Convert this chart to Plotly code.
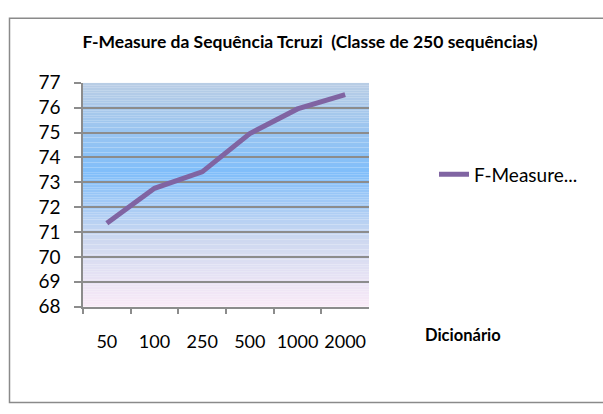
import plotly.graph_objects as go

# ---- data ----
categories = ["50", "100", "250", "500", "1000", "2000"]
f_measure = [71.35, 72.76, 73.42, 74.96, 75.95, 76.53]
series_name = "F-Measure..."
title_text = "F-Measure da Sequência Tcruzi \u00a0(Classe de 250 sequências)"
x_title = "Dicionário"
y_ticks = list(range(68, 78))

W, H = 603, 414
FONT = "Lato"
Y_MIN, Y_MAX = 68, 77

# plot area in pixels
px_l, px_r, px_t, px_b = 83, 369, 75, 312

fig = go.Figure()
fig.add_trace(go.Scatter(
    x=categories, y=f_measure, mode="lines", name=series_name,
    line=dict(color="#8064a2", width=5),
))

# gradient background via thin stripes (style only)
stops = [(0.0, (185, 205, 229)), (0.40, (128, 190, 250)), (0.70, (205, 216, 240)), (1.0, (250, 234, 247))]

def grad(t):
    for (t0, c0), (t1, c1) in zip(stops[:-1], stops[1:]):
        if t0 <= t <= t1:
            f = (t - t0) / (t1 - t0)
            return "rgb(%d,%d,%d)" % tuple(round(a + (b - a) * f) for a, b in zip(c0, c1))
    return "rgb(%d,%d,%d)" % stops[-1][1]

n = 90
shapes = []
step = (Y_MAX - Y_MIN) / n
for i in range(n):
    y1 = Y_MAX - i * step
    y0 = y1 - step
    shapes.append(dict(type="rect", xref="x domain", yref="y", x0=0, x1=1,
                       y0=y0, y1=y1, fillcolor=grad((i + 0.5) / n),
                       line=dict(width=0), layer="below"))
# chart-area border
shapes.append(dict(type="rect", xref="paper", yref="paper",
                   x0=9.5 / W, x1=1.05, y0=(H - 413.5) / H, y1=(H - 6.5) / H,
                   line=dict(color="#8a8a8a", width=1.5), fillcolor="rgba(0,0,0,0)",
                   layer="below"))

fig.update_layout(
    width=W, height=H,
    margin=dict(l=0, r=0, t=0, b=0),
    paper_bgcolor="white", plot_bgcolor="rgba(0,0,0,0)",
    font=dict(family=FONT, color="black", size=18),
    title=dict(text="<b>" + title_text + "</b>", x=310 / W, xanchor="center",
               y=(H - 42) / H, yanchor="middle", font=dict(family=FONT, size=17.5)),
    showlegend=True,
    legend=dict(x=(478 - 44) / W, xanchor="left", y=(H - 172) / H, yanchor="middle",
                bgcolor="rgba(0,0,0,0)", font=dict(family=FONT, size=19)),
    shapes=shapes,
    xaxis=dict(
        domain=[px_l / W, px_r / W], type="category", categoryorder="array",
        categoryarray=categories, range=[-0.5, len(categories) - 0.5],
        showgrid=False, showline=True, linecolor="#8c8c8c", linewidth=1.5,
        ticks="outside", ticklen=6, tickcolor="#8c8c8c", tickwidth=1.5,
        tickson="boundaries", ticklabelstandoff=18, tickangle=0,
        tickfont=dict(family=FONT, size=18), zeroline=False,
    ),
    yaxis=dict(
        domain=[(H - px_b) / H, (H - px_t) / H], range=[Y_MIN, Y_MAX],
        tickvals=y_ticks, showgrid=True, gridcolor="#8c8c8c", gridwidth=1.5,
        showline=True, linecolor="#8c8c8c", linewidth=1.5,
        ticks="outside", ticklen=7, tickcolor="#8c8c8c", tickwidth=1.5,
        ticklabelstandoff=10, tickfont=dict(family=FONT, size=19), zeroline=False,
    ),
    annotations=[dict(text="<b>" + x_title + "</b>", xref="paper", yref="paper",
                      x=463 / W, y=(H - 342) / H, xanchor="center", yanchor="middle",
                      showarrow=False, font=dict(family=FONT, size=16.5))],
)

fig.write_html("out.html")
